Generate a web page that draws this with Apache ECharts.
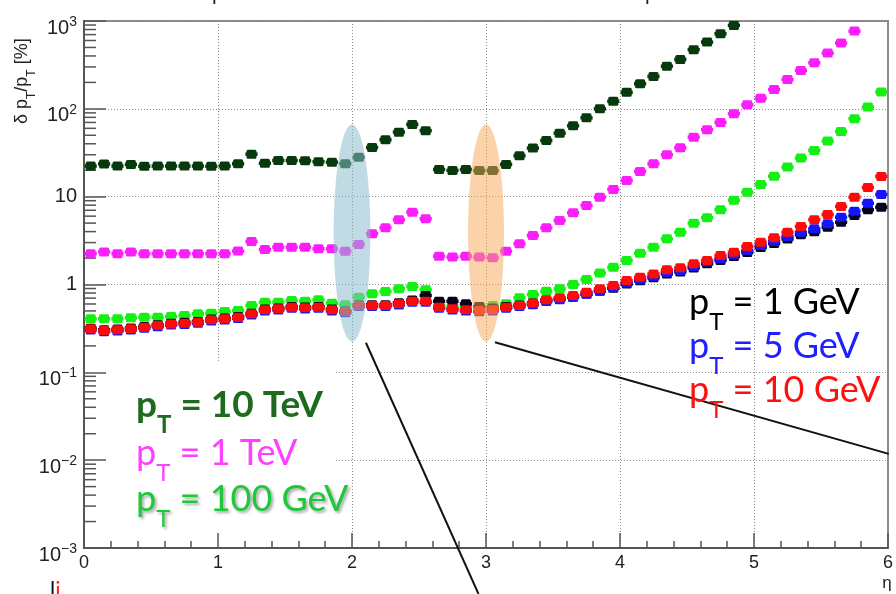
<!DOCTYPE html>
<html>
<head>
<meta charset="utf-8">
<script src="https://cdn.jsdelivr.net/npm/echarts@6/dist/echarts.min.js"></script>
<style>
  html, body { margin: 0; padding: 0; background: #fff; }
  #chart { width: 896px; height: 594px; }
</style>
</head>
<body>
<div id="chart"></div>
<script>
// η bin centres (bin width 0.1)
const etaBins = [0.05,0.15,0.25,0.35,0.45,0.55,0.65,0.75,0.85,0.95,
                 1.05,1.15,1.25,1.35,1.45,1.55,1.65,1.75,1.85,1.95,
                 2.05,2.15,2.25,2.35,2.45,2.55,2.65,2.75,2.85,2.95,
                 3.05,3.15,3.25,3.35,3.45,3.55,3.65,3.75,3.85,3.95,
                 4.05,4.15,4.25,4.35,4.45,4.55,4.65,4.75,4.85,4.95,
                 5.05,5.15,5.25,5.35,5.45,5.55,5.65,5.75,5.85,5.95];
const binHalfWidth = 0.05;

// relative pT resolution [%] per η bin
const res10TeV = [22.3,23.6,22.3,23.3,22.2,22.3,22.3,22.3,22.3,22.2,
                  22.3,23.7,30.5,24.0,25.8,25.8,25.6,25.0,24.7,23.7,
                  28.1,36.3,44.4,54.3,66.5,56.4,20.4,19.9,20.4,19.8,
                  19.8,23.3,29.2,35.7,43.6,52.8,64.1,79.0,100,122,
                  154,193,234,306,365,472,575,717,891,null,
                  null,null,null,null,null,null,null,null,null,null];
const res1TeV = [2.24,2.35,2.24,2.35,2.24,2.24,2.24,2.24,2.24,2.24,
                 2.24,2.40,3.09,2.50,2.66,2.66,2.66,2.55,2.55,2.39,
                 2.85,3.78,4.42,5.46,6.66,5.60,2.10,2.05,2.10,2.05,
                 2.01,2.39,2.91,3.61,4.42,5.36,6.56,7.94,9.87,12.1,
                 15.3,19.4,23.7,30.0,36.1,47.6,57.8,70.0,87.9,111,
                 132,166,216,274,335,431,560,767,null,null];
const res100GeV = [0.407,0.407,0.407,0.418,0.424,0.424,0.432,0.443,0.464,0.471,
                   0.493,0.506,0.577,0.629,0.629,0.657,0.645,0.669,0.612,0.587,
                   0.717,0.783,0.832,0.893,0.949,0.870,0.577,0.562,0.551,0.562,
                   0.577,0.603,0.705,0.769,0.839,0.893,1.00,1.14,1.35,1.57,
                   1.88,2.27,2.66,3.31,3.94,4.99,5.75,7.09,9.1,11.25,
                   13.8,17.1,21.7,27.5,33.6,42.9,55.3,77.1,104.7,155];
const res10GeV = [0.313,0.299,0.305,0.313,0.327,0.341,0.356,0.362,0.372,0.396,
                  0.407,0.424,0.464,0.515,0.529,0.552,0.543,0.552,0.515,0.493,
                  0.577,0.577,0.577,0.603,0.645,0.645,0.552,0.529,0.515,0.506,
                  0.515,0.552,0.577,0.612,0.669,0.705,0.749,0.817,0.893,0.974,
                  1.11,1.21,1.32,1.47,1.55,1.72,1.88,2.14,2.33,2.71,
                  3.03,3.40,3.94,4.58,5.46,6.27,7.73,9.87,12.7,17.0];
const res5GeV = [0.303,0.290,0.296,0.303,0.317,0.331,0.345,0.351,0.361,0.384,
                 0.395,0.411,0.450,0.500,0.513,0.535,0.527,0.535,0.500,0.478,
                 0.560,0.560,0.560,0.585,0.626,0.626,0.535,0.513,0.500,0.491,
                 0.500,0.535,0.560,0.590,0.640,0.672,0.712,0.774,0.845,0.918,
                 1.04,1.13,1.23,1.37,1.44,1.60,1.80,1.96,2.18,2.44,
                 2.78,3.11,3.52,3.94,4.31,4.91,5.84,6.84,8.43,10.6];
const res1GeV = [0.318,0.305,0.311,0.320,0.333,0.348,0.363,0.372,0.380,0.405,
                 0.415,0.432,0.470,0.525,0.540,0.563,0.555,0.563,0.525,0.500,
                 0.585,0.590,0.590,0.620,0.665,0.750,0.645,0.645,0.603,0.560,
                 0.540,0.560,0.585,0.615,0.660,0.690,0.725,0.780,0.840,0.905,
                 1.01,1.10,1.19,1.32,1.39,1.54,1.72,1.88,2.08,2.32,
                 2.63,2.93,3.30,3.68,3.98,4.49,5.13,6.10,7.09,7.59];

// axis tick labels
const xTickLabels = ['0','1','2','3','4','5','6'];
const yTickExponents = [-3,-2,-1,0,1,2,3];
const yTickText = [['10','\u22123'],['10','\u22122'],['10','\u22121'],['1',''],['10',''],['10','2'],['10','3']];

// highlighted η regions and their pointer lines (data coordinates)
const bands = [
  { eta: 2, halfWidth: 0.137, low: 0.224, high: 66.4, fill: 'rgba(140,190,205,0.55)' },
  { eta: 3, halfWidth: 0.134, low: 0.224, high: 66.4, fill: 'rgba(245,168,88,0.5)' }
];
const pointers = [
  [[2.104, 0.217], [2.944, 0.0003]],
  [[3.067, 0.220], [6.006, 0.0118]]
];

const chart = echarts.init(document.getElementById('chart'));
const axisFont = 'Liberation Sans, Arial, sans-serif';
const legendFont = 'Lato, "Open Sans", sans-serif';

function binSeries(name, values, color, z) {
  const data = [];
  etaBins.forEach((eta, i) => { if (values[i] != null) data.push([eta, values[i]]); });
  return {
    type: 'custom', name, xAxisIndex: 1, yAxisIndex: 1, z, data,
    renderItem(params, api) {
      const eta = api.value(0), v = api.value(1);
      const c = api.coord([eta, v]);
      const l = api.coord([eta - binHalfWidth, v]);
      const r = api.coord([eta + binHalfWidth, v]);
      return {
        type: 'group',
        children: [
          { type: 'line', shape: { x1: l[0] + 0.6, y1: c[1], x2: r[0] - 0.6, y2: c[1] },
            style: { stroke: color, lineWidth: 3.5 } },
          { type: 'rect', shape: { x: c[0] - 5, y: c[1] - 4.5, width: 10, height: 9, r: 1.5 },
            style: { fill: color } }
        ]
      };
    }
  };
}

const gridLine = { show: true, lineStyle: { color: '#8c8c8c', width: 1, type: [1, 2] } };
const axisColor = '#555';

const option = {
  animation: false,
  backgroundColor: '#fff',
  grid: { left: 84, top: 21, width: 811, height: 527, show: true, borderColor: '#8a8a8a', borderWidth: 2 },
  xAxis: [
    { type: 'value', position: 'top', min: 0, max: 6, interval: 1, z: 0,
      axisLine: { show: false }, axisTick: { show: false }, axisLabel: { show: false },
      splitLine: gridLine },
    { type: 'value', position: 'bottom', min: 0, max: 6, interval: 1, z: 3,
      axisLine: { show: true, onZero: false, lineStyle: { color: axisColor, width: 2 } },
      axisTick: { show: true, inside: true, length: 15, lineStyle: { color: axisColor, width: 1.5 } },
      minorTick: { show: true, splitNumber: 5, length: 7, lineStyle: { color: axisColor, width: 1.5 } },
      splitLine: { show: false },
      axisLabel: { color: '#222', fontSize: 18, fontFamily: axisFont, margin: 6,
                   formatter: v => xTickLabels[Math.round(v)] } }
  ],
  yAxis: [
    { type: 'log', logBase: 10, position: 'right', min: 0.001, max: 1000, splitNumber: 6, z: 0,
      axisLine: { show: false }, axisTick: { show: false }, axisLabel: { show: false },
      splitLine: gridLine },
    { type: 'log', logBase: 10, position: 'left', min: 0.001, max: 1000, splitNumber: 6, z: 3,
      axisLine: { show: true, lineStyle: { color: axisColor, width: 2 } },
      axisTick: { show: true, inside: true, length: 22, lineStyle: { color: axisColor, width: 1.5 } },
      splitLine: { show: false },
      axisLabel: {
        margin: 7, color: '#222',
        formatter: v => {
          const i = yTickExponents.indexOf(Math.round(Math.log10(v)));
          const t = yTickText[i];
          return t[1] ? '{b|' + t[0] + '}{s|' + t[1] + '}' : '{n|' + t[0] + '}';
        },
        rich: {
          b: { fontSize: 20, fontFamily: axisFont, color: '#222', lineHeight: 20, padding: [7, 0, 0, 0], verticalAlign: 'top' },
          s: { fontSize: 14, fontFamily: axisFont, color: '#222', lineHeight: 14, padding: [4, 0, 0, 0], verticalAlign: 'top' },
          n: { fontSize: 20, fontFamily: axisFont, color: '#222', lineHeight: 20 }
        }
      } }
  ],
  series: [
    binSeries('p_T = 100 GeV', res100GeV, '#14ef14', 4),
    binSeries('p_T = 1 GeV', res1GeV, '#04041c', 5),
    binSeries('p_T = 5 GeV', res5GeV, '#1414ff', 6),
    binSeries('p_T = 10 GeV', res10GeV, '#ff0a0a', 7),
    binSeries('p_T = 1 TeV', res1TeV, '#fa1efa', 8),
    binSeries('p_T = 10 TeV', res10TeV, '#063a0c', 9)
  ]
};
chart.setOption(option);

const toPx = (eta, v) => chart.convertToPixel({ xAxisIndex: 1, yAxisIndex: 1 }, [eta, v]);
const graphics = [];

// white panel behind the left-hand labels (hides the grid there)
graphics.push({ type: 'rect', z: 1, shape: { x: 85, y: 363, width: 250, height: 184 }, style: { fill: '#fff' } });

// log minor ticks on the left axis
const axisX = toPx(0, 1)[0];
for (let e = -3; e < 3; e++) {
  for (let m = 2; m <= 9; m++) {
    const y = toPx(0, m * Math.pow(10, e))[1];
    graphics.push({ type: 'line', z: 3, shape: { x1: axisX, y1: y, x2: axisX + 12, y2: y },
                    style: { stroke: axisColor, lineWidth: 1.5 } });
  }
}

// highlighted regions
bands.forEach(b => {
  const top = toPx(b.eta, b.high), bot = toPx(b.eta, b.low), side = toPx(b.eta + b.halfWidth, b.high);
  graphics.push({ type: 'ellipse', z: 20,
    shape: { cx: top[0], cy: (top[1] + bot[1]) / 2, rx: side[0] - top[0], ry: (bot[1] - top[1]) / 2 },
    style: { fill: b.fill } });
});
pointers.forEach(p => {
  const a = toPx(p[0][0], p[0][1]), b = toPx(p[1][0], p[1][1]);
  graphics.push({ type: 'line', z: 21, shape: { x1: a[0], y1: a[1], x2: b[0], y2: b[1] },
                  style: { stroke: '#111', lineWidth: 2 } });
});

// pT labels with subscript T
function ptText(x, y, value, color, bold, shadow, size) {
  const base = { fontFamily: legendFont, fontWeight: bold ? 'bold' : 'normal', fill: color };
  if (shadow) Object.assign(base, { textShadowColor: 'rgba(0,0,0,0.35)', textShadowBlur: 3, textShadowOffsetX: 2, textShadowOffsetY: 2 });
  return {
    type: 'text', z: 30, x, y,
    style: {
      text: '{p|p}{t|T}{p| = ' + value + '}',
      verticalAlign: 'top', align: 'left',
      rich: {
        p: Object.assign({ fontSize: size, lineHeight: 40, verticalAlign: 'top' }, base),
        t: Object.assign({ fontSize: 24, lineHeight: 24, padding: [26, 0, 0, 0], verticalAlign: 'top' }, base)
      }
    }
  };
}
graphics.push(ptText(136, 387, '10 TeV', '#1d6b1d', true, false, 37));
graphics.push(ptText(136, 435, '1 TeV', '#ff40ff', false, false, 36));
graphics.push(ptText(136, 481, '100 GeV', '#1fc83a', false, true, 36));
graphics.push(ptText(689, 284, '1 GeV', '#000000', false, false, 36));
graphics.push(ptText(689, 328, '5 GeV', '#2020ff', false, false, 36));
graphics.push(ptText(689, 372, '10 GeV', '#ff1010', false, false, 36));

// axis titles
graphics.push({
  type: 'text', z: 30, x: 24, y: 124, rotation: Math.PI / 2,
  style: {
    text: '{a|\u03b4 p}{t|T}{a|/p}{t|T}{a| [%]}', align: 'left', verticalAlign: 'middle',
    rich: {
      a: { fontSize: 18, fontFamily: axisFont, fill: '#222', lineHeight: 21, verticalAlign: 'top' },
      t: { fontSize: 12, fontFamily: axisFont, fill: '#222', lineHeight: 12, padding: [12, 0, 0, 0], verticalAlign: 'top' }
    }
  }
});
graphics.push({ type: 'text', z: 30, x: 887, y: 583,
  style: { text: '\u03b7', fontSize: 17, fontFamily: axisFont, fill: '#222', align: 'center', verticalAlign: 'middle' } });

// cut-off glyphs at the page edges
graphics.push({ type: 'text', z: 30, x: 212, y: 5,
  style: { text: 'p', fontSize: 21, fontFamily: axisFont, fill: '#222', align: 'left', verticalAlign: 'bottom' } });
graphics.push({ type: 'text', z: 30, x: 645, y: 5,
  style: { text: 'p', fontSize: 21, fontFamily: axisFont, fill: '#222', align: 'left', verticalAlign: 'bottom' } });
graphics.push({ type: 'text', z: 30, x: 50, y: 579,
  style: { text: '{k|l}{r|i}', verticalAlign: 'top', align: 'left',
    rich: { k: { fontSize: 22, fontFamily: legendFont, fill: '#111' }, r: { fontSize: 22, fontFamily: legendFont, fill: '#ff2020' } } } });

chart.setOption({ graphic: graphics });
</script>
</body>
</html>
